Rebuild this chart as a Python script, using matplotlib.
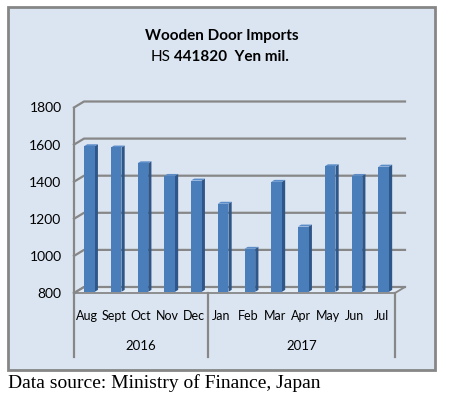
import matplotlib
matplotlib.use('Agg')
import matplotlib.pyplot as plt
from matplotlib.patches import Polygon, Rectangle

months = ['Aug', 'Sept', 'Oct', 'Nov', 'Dec', 'Jan', 'Feb', 'Mar', 'Apr', 'May', 'Jun', 'Jul']
imports = [1585, 1578, 1493, 1425, 1400, 1275, 1032, 1393, 1152, 1477, 1425, 1475]
years = ['2016', '2017']
year_counts = [5, 7]
yticks = [800, 1000, 1200, 1400, 1600, 1800]

plt.rcParams['font.family'] = ['Lato', 'DejaVu Sans']

W, H = 449, 399
fig = plt.figure(figsize=(W / 100, H / 100), dpi=100)
fig.patch.set_facecolor('white')

# chart frame
fig.patches.append(Rectangle((8 / W, 1 - 370 / H), 427 / W, 363 / H, transform=fig.transFigure,
                             facecolor='#dbe5f1', edgecolor='#868686', lw=2, zorder=-1))

ax = fig.add_axes([74 / W, 1 - 293 / H, 321 / W, 185.5 / H])
ax.set_zorder(2)
ax.set_xlim(0, len(months))
ax.set_ylim(800, 1800)
ax.patch.set_visible(False)
for s in ax.spines.values():
    s.set_visible(False)

n = len(months)
ux = n / 321.0          # data units per pixel
uy = 1000 / 185.5
ddx, ddy = 10 * ux, 6 * uy   # depth of the 3d box
grid_c = '#878787'

# floor
ax.add_patch(Polygon([(0, 800), (n, 800), (n + ddx, 800 + ddy), (ddx, 800 + ddy)], closed=True,
                     facecolor='#e3ebf5', edgecolor=grid_c, lw=1.3, clip_on=False, zorder=1))
# back wall gridlines + left wall
for t in yticks:
    ax.plot([0, ddx, n + ddx], [t, t + ddy, t + ddy], color=grid_c, lw=1.6, clip_on=False, zorder=1)
ax.plot([0, 0], [800, 1800], color=grid_c, lw=1.6, clip_on=False, zorder=1)

# bars
bw = 0.4
f0, f1 = 0.2, 0.52
d, e = (f1 - f0) * ddx, (f1 - f0) * ddy
xs = [i + 0.5 + f0 * ddx for i in range(n)]
base = 800 + f0 * ddy
ax.bar(xs, [v - 800 for v in imports], width=bw, bottom=base, color='#4a7ebb',
       edgecolor='none', clip_on=False, zorder=3)
for x, v in zip(xs, imports):
    top = base + v - 800
    xr = x + bw / 2
    xl = x - bw / 2
    ax.add_patch(Polygon([(xr, base), (xr + d, base + e), (xr + d, top + e), (xr, top)],
                         closed=True, facecolor='#2f5688', edgecolor='none', clip_on=False, zorder=2))
    ax.add_patch(Polygon([(xl, top), (xr, top), (xr + d, top + e), (xl + d, top + e)],
                         closed=True, facecolor='#5b8cc8', edgecolor='none', clip_on=False, zorder=2))

# axes labels
ax.set_yticks(yticks)
ax.set_yticklabels([str(t) for t in yticks], fontsize=10)
ax.set_xticks([i + 0.5 for i in range(n)])
ax.set_xticklabels(months, fontsize=9)
ax.tick_params(axis='y', length=0, pad=9)
ax.tick_params(axis='x', length=0, pad=12.5)

# year groups
low = 800 - 64 * uy
pos = 0
for yr, c in zip(years, year_counts):
    ax.plot([pos, pos], [800, low], color=grid_c, lw=1.6, clip_on=False)
    ax.text(pos + c / 2, 800 - 53 * uy, yr, ha='center', va='center', fontsize=9.5)
    pos += c
ax.plot([pos, pos], [800, low], color=grid_c, lw=1.6, clip_on=False)

# titles
fig.text(221.5 / W, 1 - 36 / H, 'Wooden Door Imports', ha='center', va='center',
         fontsize=11, fontweight='bold')
fig.text(171 / W, 1 - 57 / H, 'HS', ha='right', va='center', fontsize=11)
fig.text(174 / W, 1 - 57 / H, '441820  Yen mil.', ha='left', va='center',
         fontsize=11, fontweight='bold')

fig.text(8 / W, 1 - 383 / H, 'Data source: Ministry of Finance, Japan', ha='left', va='center',
         fontsize=14, family='Liberation Serif')

fig.savefig('out.png', dpi=100)
